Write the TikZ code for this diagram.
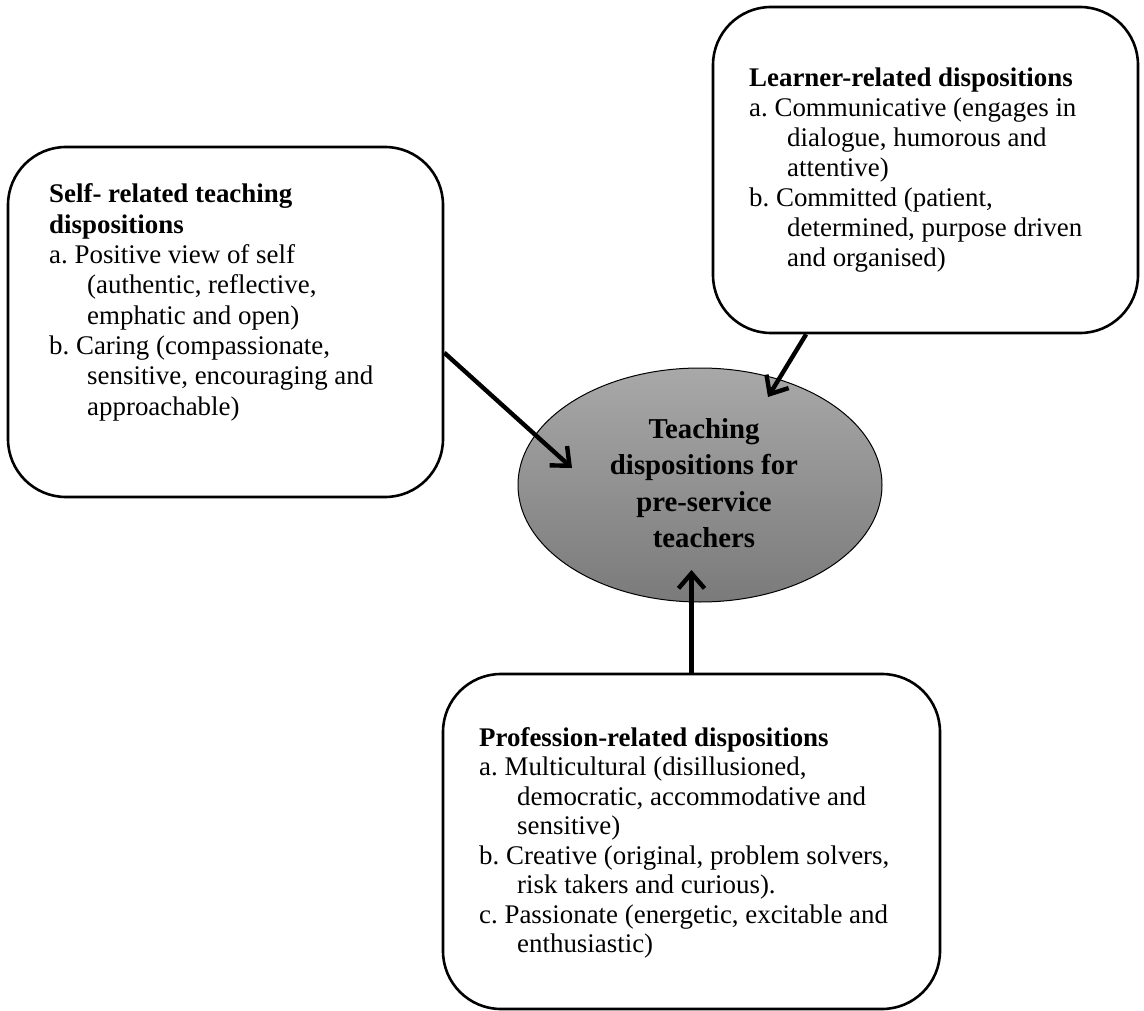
\documentclass[tikz,border=0pt]{standalone}
\usepackage{fontspec}
\setmainfont{Liberation Serif}
\usetikzlibrary{arrows.meta,shapes.geometric}
\definecolor{etop}{gray}{0.66}
\definecolor{ebot}{gray}{0.48}
\newcommand\myind{\hspace*{38pt}}
\newcommand\tlines[2]{\begin{tabular}[t]{@{}#1@{}}#2\end{tabular}}
\frenchspacing
\begin{document}
\begin{tikzpicture}[x=1pt,y=-1pt,
  box/.style={draw, line width=2.6pt, rounded corners=58pt, inner sep=0pt},
  txt/.style={anchor=base west, inner sep=0pt},
  conn/.style={line width=4.4pt, -{Straight Barb[length=15pt,width=26pt]}},
  ]
\useasboundingbox (0,0) rectangle (1144,1011);
\node[box, minimum width=435pt, minimum height=350pt] (sbox) at (225.5,322) {};
\node[box, minimum width=425pt, minimum height=326pt] (rbox) at (925.5,170) {};
\node[box, minimum width=497pt, minimum height=335pt] (pbox) at (691.5,841.5) {};
\node[ellipse, draw, line width=1pt, minimum width=364pt, minimum height=234pt,
      top color=etop, bottom color=ebot] (ell) at (700,485) {};
\node[anchor=base, inner sep=0pt,
      font=\bfseries\fontsize{28.8}{36.5}\selectfont] (ctext) at (704,438)
  {\tlines{c}{Teaching\\dispositions for\\pre-service\\teachers}};
\node[txt, font=\fontsize{26.9}{30.3}\selectfont] (stext) at (49,203)
 {\tlines{l}{\textbf{Self- related teaching}\\
  \textbf{dispositions}\\
  a. Positive view of self\\
  \myind(authentic, reflective,\\
  \myind emphatic and open)\\
  b. Caring (compassionate,\\
  \myind sensitive, encouraging and\\
  \myind approachable)}};
\node[txt, font=\fontsize{26.9}{30}\selectfont] (rtext) at (749,87)
 {\tlines{l}{\textbf{Learner-related dispositions}\\
  a. Communicative (engages in\\
  \myind dialogue, humorous and\\
  \myind attentive)\\
  b. Committed (patient,\\
  \myind determined, purpose driven\\
  \myind and organised)}};
\node[txt, font=\fontsize{26.9}{29.5}\selectfont] (ptext) at (479,746)
 {\tlines{l}{\textbf{Profession-related dispositions}\\
  a. Multicultural (disillusioned,\\
  \myind democratic, accommodative and\\
  \myind sensitive)\\
  b. Creative (original, problem solvers,\\
  \myind risk takers and curious).\\
  c. Passionate (energetic, excitable and\\
  \myind enthusiastic)}};
\coordinate (t1) at (572,468);
\coordinate (t2) at (768,397);
\coordinate (t3) at (691.5,570);
\draw[conn] (sbox.-8.6) -- (t1);
\draw[conn] (rbox.234.3) -- (t2);
\draw[conn] (pbox.north) -- (t3);
\end{tikzpicture}
\end{document}
